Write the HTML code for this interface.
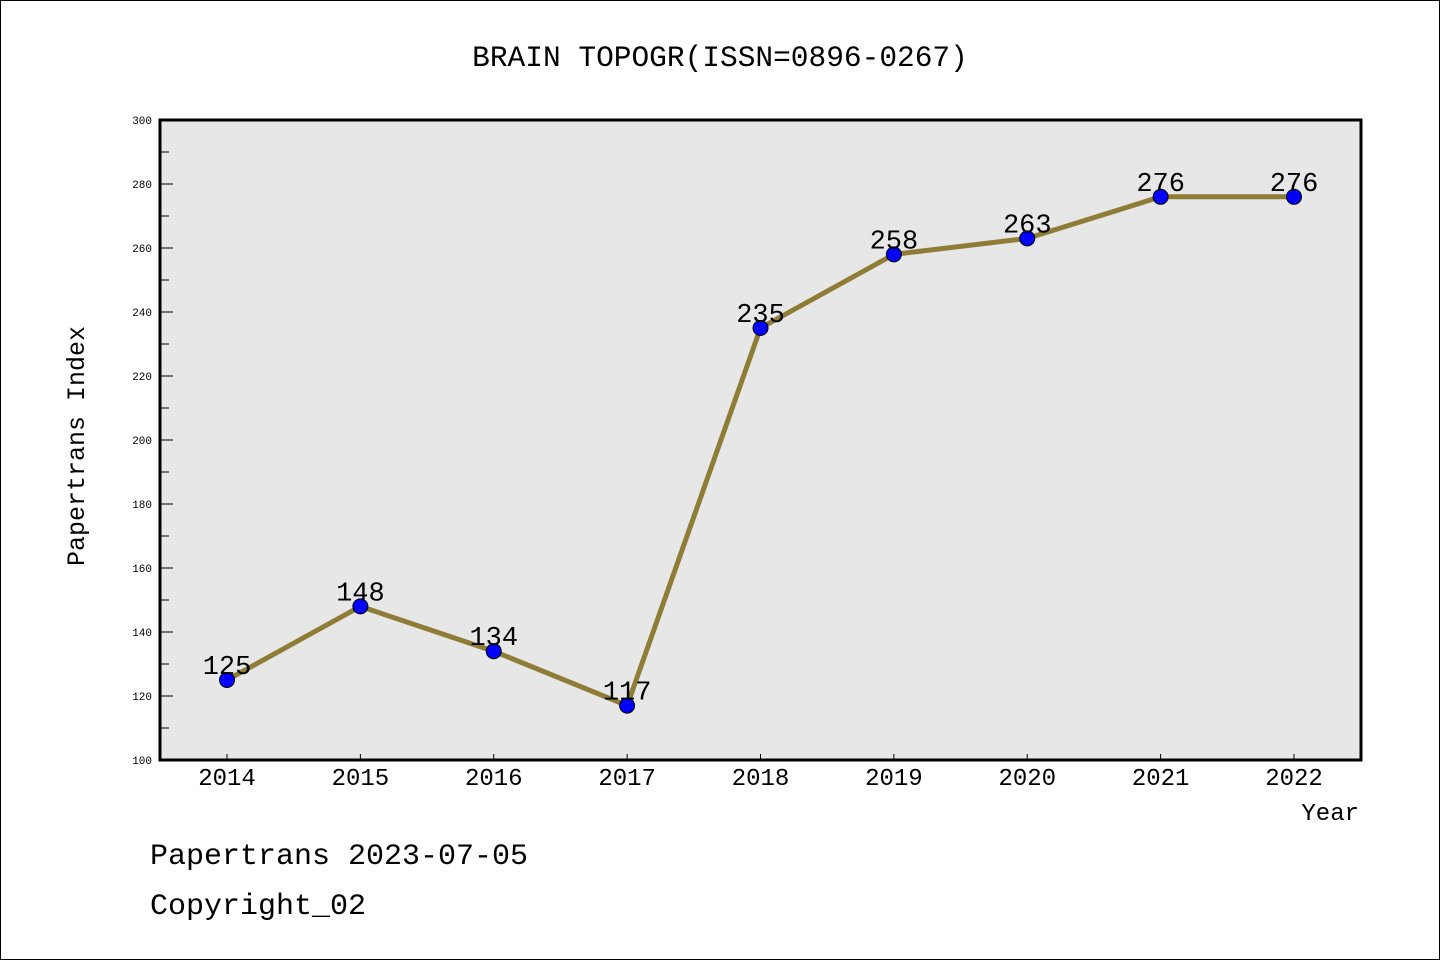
<!DOCTYPE html>
<html><head><meta charset="utf-8"><style>
html,body{margin:0;padding:0;background:#fff;}
svg{display:block;font-family:"Liberation Mono",monospace;}
</style></head><body>
<svg id="c" width="1440" height="960" viewBox="0 0 1440 960">
<rect x="0.5" y="0.5" width="1439" height="959" fill="#fff" stroke="#000" stroke-width="1"/>
<text x="720" y="66" font-size="29.5" text-anchor="middle">BRAIN TOPOGR(ISSN=0896-0267)</text>
<rect x="160" y="120" width="1201" height="640" fill="#e7e7e7"/>
<g id="grid"></g>
<g id="marks"></g>
<rect x="160" y="120" width="1201" height="640" fill="none" stroke="#000" stroke-width="3"/>
<text transform="translate(84,446) rotate(-90)" font-size="25" text-anchor="middle">Papertrans Index</text>
<text x="1359" y="820" font-size="24" text-anchor="end">Year</text>
<text x="150" y="864" font-size="30">Papertrans 2023-07-05</text>
<text x="150" y="914" font-size="30">Copyright_02</text>
</svg>
<script>
const years = ["2014","2015","2016","2017","2018","2019","2020","2021","2022"];
const values = [125,148,134,117,235,258,263,276,276];
const yTicks = [100,120,140,160,180,200,220,240,260,280,300];
const NS="http://www.w3.org/2000/svg";
const x0=227, x1=1294;
function xs(i){return x0+(x1-x0)*i/(years.length-1);}
function ys(v){return 760-(v-100)*640/200;}
function mk(tag,attrs,parent,text){const e=document.createElementNS(NS,tag);for(const k in attrs)e.setAttribute(k,attrs[k]);if(text!==undefined)e.textContent=text;parent.appendChild(e);return e;}
const g=document.getElementById('grid');
yTicks.forEach((t,i)=>{
  const y=ys(t);
  const ln=mk('line',{x1:160,x2:173,y1:y,y2:y,stroke:'#000','stroke-width':1},g);
  
  
  const tx=mk('text',{x:152,y:y+4,'font-size':11,'text-anchor':'end'},g,String(t));
  
  
  if(i<yTicks.length-1){
    const ym=ys(t+10);
    const mn=mk('line',{x1:160,x2:169,y1:ym,y2:ym,stroke:'#000','stroke-width':1},g);
    
    
  }
});
years.forEach((yr,i)=>{
  const x=xs(i);
  const ln=mk('line',{x1:x,x2:x,y1:760,y2:754,stroke:'#000','stroke-width':1},g);
  
  
  const tx=mk('text',{x:x,y:785,'font-size':24,'text-anchor':'middle'},g,yr);
  
  
});
const m=document.getElementById('marks');
const pts=values.map((v,i)=>xs(i)+','+ys(v)).join(' ');
const pl=mk('polyline',{points:pts,fill:'none',stroke:'#8f7d37','stroke-width':5,'stroke-linejoin':'round'},m);


values.forEach((v,i)=>{
  const c=mk('circle',{cx:xs(i),cy:ys(v),r:7.5,fill:'#0000ff',stroke:'#000','stroke-width':1},m);
  
  
  const t=mk('text',{x:xs(i),y:ys(v)-6,'font-size':27,'text-anchor':'middle'},m,String(v));
  
  
});
</script>
</body></html>
